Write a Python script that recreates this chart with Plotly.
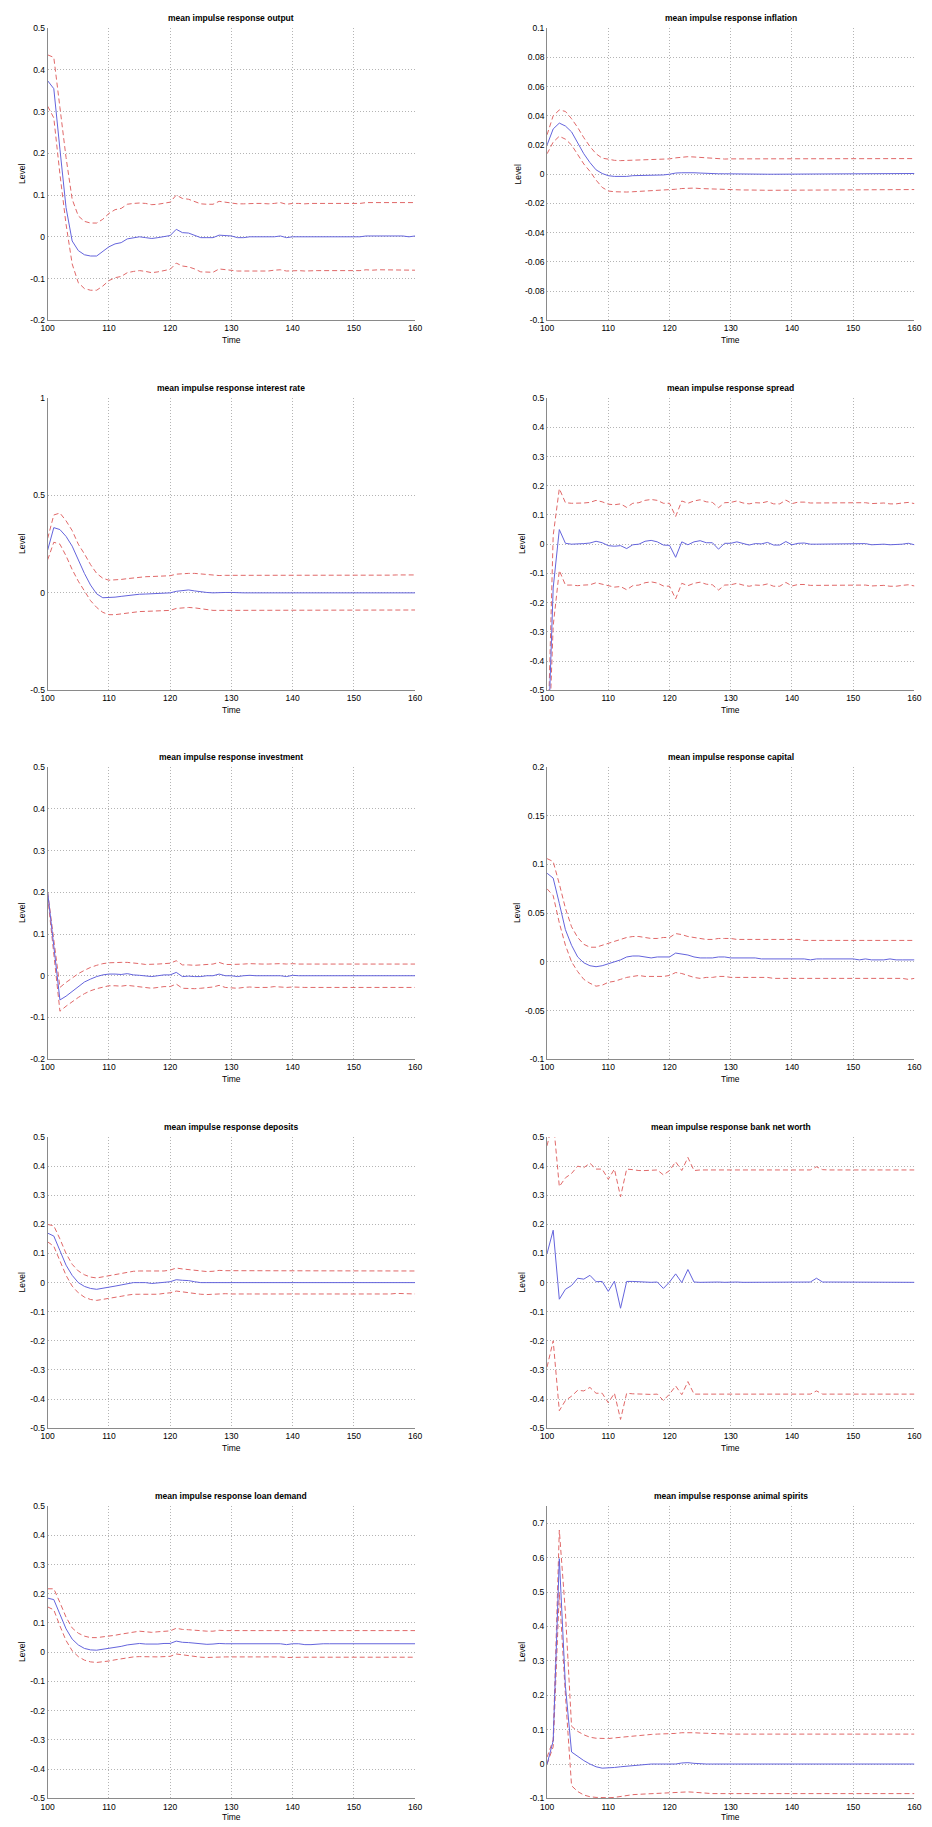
import plotly.graph_objects as go

# ---------------- data ----------------
time = list(range(100, 161))

titles = ["mean impulse response output", "mean impulse response inflation",
          "mean impulse response interest rate", "mean impulse response spread",
          "mean impulse response investment", "mean impulse response capital",
          "mean impulse response deposits", "mean impulse response bank net worth",
          "mean impulse response loan demand", "mean impulse response animal spirits"]

out_mean = [0.374, 0.355, 0.21, 0.07, -0.01, -0.033, -0.043, -0.046, -0.046, -0.035,
            -0.024, -0.017, -0.014, -0.005, -0.002, 0.0, -0.002, -0.004, -0.002, 0.0,
            0.003, 0.018, 0.01, 0.009, 0.004, -0.002, -0.002, -0.002, 0.004, 0.003,
            0.002, -0.002, -0.002, 0.0, 0.0, 0.0, -0.001, 0.0, 0.002, -0.002,
            0.0, 0.0, -0.001, 0.0, 0.0, 0.0, 0.0, 0.0, 0.0, 0.0,
            0.0, 0.0, 0.002, 0.002, 0.002, 0.002, 0.002, 0.002, 0.002, 0.0,
            0.002]
out_hi = [0.436, 0.43, 0.31, 0.19, 0.09, 0.05, 0.037, 0.033, 0.033, 0.042,
          0.056, 0.065, 0.068, 0.078, 0.08, 0.081, 0.08, 0.077, 0.078, 0.08,
          0.083, 0.1, 0.092, 0.09, 0.085, 0.079, 0.078, 0.078, 0.085, 0.083,
          0.081, 0.079, 0.079, 0.08, 0.08, 0.08, 0.079, 0.08, 0.082, 0.078,
          0.08, 0.08, 0.079, 0.08, 0.08, 0.08, 0.08, 0.08, 0.08, 0.08,
          0.08, 0.08, 0.082, 0.082, 0.082, 0.082, 0.082, 0.082, 0.082, 0.081,
          0.082]
out_lo = [0.313, 0.285, 0.15, 0.03, -0.065, -0.11, -0.124, -0.128, -0.128, -0.118,
          -0.105, -0.098, -0.095, -0.086, -0.083, -0.081, -0.083, -0.086, -0.084, -0.081,
          -0.078, -0.063, -0.07, -0.072, -0.077, -0.084, -0.084, -0.085, -0.077, -0.079,
          -0.08, -0.082, -0.082, -0.082, -0.082, -0.083, -0.082, -0.08, -0.079, -0.082,
          -0.081, -0.081, -0.082, -0.081, -0.081, -0.081, -0.081, -0.081, -0.081, -0.081,
          -0.081, -0.081, -0.079, -0.08, -0.079, -0.079, -0.079, -0.079, -0.079, -0.08,
          -0.08]

inf_mean = [0.02, 0.031, 0.035, 0.033, 0.029, 0.021, 0.014, 0.008, 0.003, 0.0005,
            -0.001, -0.0015, -0.0017, -0.0015, -0.001, -0.001, -0.0008, -0.0007, -0.0006, -0.0005,
            0.0, 0.0008, 0.001, 0.0012, 0.001, 0.0008, 0.0005, 0.0002, 0.0003, 0.0003,
            0.0002, 0.0, 0.0, 0.0, 0.0, 0.0, 0.0, 0.0, 0.0, 0.0,
            0.0, 0.0, 0.0, 0.0, 0.0, 0.0, 0.0, 0.0, 0.0, 0.0,
            0.0, 0.0, 0.0, 0.0, 0.0, 0.0, 0.0005, 0.0005, 0.0005, 0.0005,
            0.0005]
inf_hi = [0.027, 0.04, 0.044, 0.043, 0.038, 0.032, 0.025, 0.019, 0.014, 0.011,
          0.0103, 0.0095, 0.0093, 0.0094, 0.0096, 0.0098, 0.0099, 0.01, 0.01, 0.01,
          0.0105, 0.0112, 0.0117, 0.012, 0.0118, 0.0115, 0.011, 0.0105, 0.0103, 0.0104,
          0.0105, 0.0105, 0.0105, 0.0105, 0.0105, 0.0105, 0.0105, 0.0105, 0.0105, 0.0105,
          0.0105, 0.0105, 0.0105, 0.0105, 0.0103, 0.0103, 0.0105, 0.0105, 0.0105, 0.0105,
          0.0105, 0.0105, 0.0105, 0.0105, 0.0105, 0.0105, 0.0106, 0.0107, 0.0107, 0.0107,
          0.0107]
inf_lo = [0.014, 0.022, 0.026, 0.024, 0.02, 0.013, 0.007, 0.002, -0.004, -0.009,
          -0.0115, -0.012, -0.0123, -0.0122, -0.012, -0.0118, -0.0116, -0.0115, -0.0113, -0.0112,
          -0.011, -0.0103, -0.0098, -0.0095, -0.0095, -0.0098, -0.01, -0.0102, -0.0104, -0.0105,
          -0.0107, -0.0108, -0.0108, -0.0108, -0.011, -0.011, -0.011, -0.011, -0.011, -0.011,
          -0.011, -0.011, -0.011, -0.011, -0.011, -0.011, -0.011, -0.011, -0.011, -0.011,
          -0.011, -0.011, -0.011, -0.011, -0.011, -0.0108, -0.0105, -0.0105, -0.0105, -0.0105,
          -0.0105]

ir_mean = [0.22, 0.335, 0.325, 0.29, 0.24, 0.17, 0.1, 0.04, -0.005, -0.025,
           -0.025, -0.022, -0.018, -0.014, -0.01, -0.007, -0.006, -0.005, -0.004, -0.002,
           0.0, 0.008, 0.01, 0.015, 0.01, 0.005, 0.002, 0.0, 0.002, 0.002,
           0.002, 0.0, 0.0, 0.0, 0.0, 0.0, 0.0, 0.0, 0.0, 0.0,
           0.0, 0.0, 0.0, 0.0, 0.0, 0.0, 0.0, 0.0, 0.0, 0.0,
           0.0, 0.0, 0.0, 0.0, 0.0, 0.0, 0.003, 0.003, 0.003, 0.0,
           0.0]
ir_hi = [0.28, 0.4, 0.41, 0.37, 0.32, 0.25, 0.2, 0.145, 0.1, 0.075,
         0.065, 0.066, 0.069, 0.073, 0.077, 0.081, 0.083, 0.084, 0.085, 0.086,
         0.088, 0.096, 0.099, 0.1, 0.1, 0.097, 0.092, 0.089, 0.089, 0.09,
         0.09, 0.09, 0.09, 0.09, 0.089, 0.089, 0.089, 0.089, 0.088, 0.088,
         0.088, 0.088, 0.088, 0.088, 0.088, 0.088, 0.088, 0.089, 0.089, 0.089,
         0.089, 0.089, 0.089, 0.09, 0.09, 0.09, 0.091, 0.092, 0.092, 0.092,
         0.092]
ir_lo = [0.17, 0.26, 0.25, 0.19, 0.12, 0.06, 0.01, -0.04, -0.075, -0.1,
         -0.112, -0.112, -0.108, -0.103, -0.099, -0.096, -0.095, -0.094, -0.093, -0.092,
         -0.09, -0.08, -0.077, -0.075, -0.077, -0.082, -0.087, -0.09, -0.09, -0.09,
         -0.09, -0.09, -0.09, -0.09, -0.09, -0.09, -0.09, -0.09, -0.091, -0.091,
         -0.091, -0.091, -0.091, -0.091, -0.091, -0.091, -0.091, -0.091, -0.09, -0.09,
         -0.09, -0.09, -0.09, -0.09, -0.089, -0.089, -0.089, -0.088, -0.088, -0.088,
         -0.088]

sp_mean = [-0.78, -0.15, 0.05, 0.003, 0.0, 0.0, 0.002, 0.004, 0.01, 0.005,
           -0.005, -0.007, -0.005, -0.015, -0.002, 0.0, 0.01, 0.013, 0.008, -0.003,
           -0.004, -0.045, 0.008, -0.002, 0.008, 0.012, 0.005, 0.005, -0.017, 0.003,
           0.003, 0.008, 0.002, -0.003, 0.002, 0.001, 0.006, -0.003, -0.003, 0.009,
           -0.002, 0.003, 0.004, 0.0, 0.0, 0.0, 0.001, 0.0, 0.0, 0.0,
           0.0, 0.0, 0.002, -0.002, 0.0, 0.0, -0.002, -0.002, 0.0, 0.003,
           -0.002]
sp_hi = [-0.76, 0.03, 0.19, 0.142, 0.14, 0.14, 0.141, 0.143, 0.15, 0.145,
         0.137, 0.135, 0.138, 0.126, 0.14, 0.142, 0.15, 0.153, 0.15, 0.14,
         0.14, 0.095, 0.148, 0.14, 0.148, 0.152, 0.145, 0.143, 0.125, 0.142,
         0.143, 0.148, 0.141, 0.138, 0.142, 0.141, 0.146, 0.138, 0.138, 0.151,
         0.139, 0.144, 0.144, 0.141, 0.141, 0.141, 0.142, 0.141, 0.141, 0.141,
         0.141, 0.141, 0.142, 0.139, 0.141, 0.141, 0.138, 0.138, 0.141, 0.143,
         0.139]
sp_lo = [-0.85, -0.28, -0.09, -0.14, -0.14, -0.142, -0.14, -0.139, -0.132, -0.137,
         -0.144, -0.147, -0.145, -0.156, -0.142, -0.14, -0.132, -0.129, -0.133, -0.143,
         -0.144, -0.187, -0.134, -0.142, -0.134, -0.13, -0.137, -0.139, -0.157, -0.14,
         -0.139, -0.134, -0.14, -0.144, -0.14, -0.141, -0.136, -0.144, -0.144, -0.131,
         -0.143, -0.138, -0.138, -0.141, -0.141, -0.141, -0.14, -0.141, -0.141, -0.141,
         -0.141, -0.141, -0.14, -0.143, -0.141, -0.141, -0.144, -0.144, -0.141, -0.139,
         -0.143]

inv_mean = [0.2, 0.07, -0.058, -0.049, -0.037, -0.025, -0.015, -0.008, -0.002, 0.002,
            0.004, 0.004, 0.003, 0.005, 0.002, 0.001, 0.0, -0.002, 0.0, 0.002,
            0.002, 0.008, -0.002, -0.001, -0.002, -0.002, 0.0, 0.0, 0.004, 0.0,
            0.0, -0.002, 0.0, 0.001, 0.0, 0.0, 0.0, 0.001, 0.0, -0.002,
            0.001, 0.0, 0.0, 0.0, 0.0, 0.0, 0.0, 0.0, 0.0, 0.0,
            0.0, 0.0, 0.001, 0.0, 0.0, 0.0, 0.0, 0.0, 0.0, 0.0,
            0.0]
inv_hi = [0.2, 0.085, -0.028, -0.016, -0.005, 0.005, 0.013, 0.02, 0.025, 0.029,
          0.031, 0.032, 0.032, 0.032, 0.031, 0.029, 0.027, 0.027, 0.028, 0.029,
          0.03, 0.036, 0.026, 0.026, 0.025, 0.026, 0.027, 0.028, 0.032, 0.027,
          0.027, 0.027, 0.028, 0.029, 0.028, 0.028, 0.028, 0.029, 0.029, 0.028,
          0.029, 0.028, 0.028, 0.029, 0.029, 0.028, 0.028, 0.028, 0.028, 0.028,
          0.028, 0.028, 0.029, 0.028, 0.028, 0.028, 0.028, 0.028, 0.028, 0.028,
          0.028]
inv_lo = [0.19, 0.055, -0.085, -0.073, -0.062, -0.052, -0.043, -0.036, -0.031, -0.027,
          -0.024, -0.024, -0.025, -0.023, -0.025, -0.027, -0.029, -0.03, -0.028, -0.026,
          -0.026, -0.02, -0.03, -0.031, -0.031, -0.03, -0.028, -0.027, -0.023, -0.028,
          -0.029, -0.03, -0.028, -0.027, -0.028, -0.028, -0.028, -0.026, -0.027, -0.028,
          -0.027, -0.028, -0.028, -0.028, -0.028, -0.028, -0.028, -0.028, -0.028, -0.028,
          -0.028, -0.028, -0.028, -0.028, -0.028, -0.028, -0.028, -0.028, -0.028, -0.028,
          -0.028]

cap_mean = [0.091, 0.086, 0.06, 0.033, 0.017, 0.005, -0.001, -0.004, -0.005, -0.004,
            -0.002, 0.0, 0.002, 0.005, 0.006, 0.006, 0.005, 0.004, 0.005, 0.005,
            0.005, 0.009, 0.008, 0.007, 0.005, 0.004, 0.004, 0.004, 0.005, 0.005,
            0.004, 0.004, 0.004, 0.004, 0.004, 0.003, 0.003, 0.003, 0.003, 0.003,
            0.003, 0.003, 0.003, 0.002, 0.003, 0.003, 0.003, 0.003, 0.003, 0.003,
            0.003, 0.002, 0.003, 0.002, 0.002, 0.002, 0.003, 0.002, 0.002, 0.002,
            0.002]
cap_hi = [0.106, 0.103, 0.08, 0.055, 0.036, 0.025, 0.018, 0.015, 0.015, 0.017,
          0.019, 0.021, 0.023, 0.025, 0.026, 0.026, 0.025, 0.024, 0.024, 0.025,
          0.025, 0.029, 0.028, 0.026, 0.025, 0.024, 0.023, 0.023, 0.024, 0.024,
          0.024, 0.023, 0.023, 0.023, 0.023, 0.023, 0.023, 0.023, 0.023, 0.023,
          0.023, 0.023, 0.022, 0.022, 0.022, 0.022, 0.022, 0.022, 0.022, 0.022,
          0.022, 0.022, 0.022, 0.022, 0.022, 0.022, 0.022, 0.022, 0.022, 0.022,
          0.022]
cap_lo = [0.075, 0.068, 0.04, 0.017, 0.0, -0.01, -0.018, -0.022, -0.025, -0.024,
          -0.021, -0.02, -0.018, -0.016, -0.015, -0.014, -0.015, -0.015, -0.015, -0.015,
          -0.014, -0.011, -0.012, -0.014, -0.016, -0.017, -0.016, -0.016, -0.015, -0.015,
          -0.016, -0.016, -0.016, -0.016, -0.016, -0.016, -0.016, -0.017, -0.017, -0.017,
          -0.017, -0.017, -0.017, -0.017, -0.017, -0.017, -0.017, -0.017, -0.017, -0.017,
          -0.017, -0.017, -0.017, -0.017, -0.017, -0.017, -0.017, -0.017, -0.017, -0.018,
          -0.017]

dep_mean = [0.17, 0.16, 0.11, 0.06, 0.025, 0.0, -0.013, -0.02, -0.023, -0.02,
            -0.016, -0.012, -0.008, -0.004, 0.0, 0.0, 0.0, -0.003, 0.0, 0.001,
            0.003, 0.01, 0.008, 0.007, 0.003, 0.0, 0.0, 0.0, 0.001, 0.001,
            0.001, 0.0, 0.0, 0.0, 0.0, 0.0, 0.0, 0.0, 0.0, 0.0,
            0.0, 0.0, 0.0, 0.0, 0.0, 0.0, 0.0, 0.0, 0.0, 0.0,
            0.0, 0.0, 0.0, 0.0, 0.0, 0.001, 0.0, 0.001, 0.001, 0.0,
            0.0]
dep_hi = [0.2, 0.195, 0.15, 0.1, 0.063, 0.04, 0.027, 0.019, 0.016, 0.02,
          0.025, 0.029, 0.032, 0.036, 0.039, 0.04, 0.04, 0.038, 0.039, 0.04,
          0.043, 0.05, 0.047, 0.045, 0.042, 0.039, 0.038, 0.039, 0.042, 0.041,
          0.041, 0.041, 0.04, 0.04, 0.04, 0.04, 0.039, 0.04, 0.04, 0.04,
          0.04, 0.04, 0.04, 0.04, 0.04, 0.04, 0.04, 0.04, 0.04, 0.04,
          0.04, 0.04, 0.04, 0.04, 0.04, 0.04, 0.04, 0.04, 0.04, 0.04,
          0.04]
dep_lo = [0.14, 0.125, 0.075, 0.025, -0.012, -0.035, -0.05, -0.058, -0.061, -0.058,
          -0.055, -0.05, -0.047, -0.043, -0.04, -0.04, -0.04, -0.042, -0.04, -0.037,
          -0.035, -0.029, -0.032, -0.033, -0.036, -0.04, -0.041, -0.04, -0.037, -0.038,
          -0.039, -0.04, -0.039, -0.039, -0.039, -0.039, -0.038, -0.039, -0.04, -0.039,
          -0.039, -0.039, -0.039, -0.039, -0.039, -0.039, -0.039, -0.039, -0.039, -0.039,
          -0.039, -0.039, -0.039, -0.039, -0.039, -0.039, -0.039, -0.037, -0.038, -0.038,
          -0.039]

bnw_mean = [0.1, 0.18, -0.057, -0.023, -0.01, 0.015, 0.012, 0.025, 0.003, 0.004,
            -0.03, 0.005, -0.088, 0.004, 0.004, 0.002, 0.002, 0.001, 0.002, -0.02,
            0.002, 0.03, 0.0, 0.045, 0.002, 0.001, 0.002, 0.002, 0.002, 0.001,
            0.002, 0.002, 0.001, 0.001, 0.001, 0.002, 0.001, 0.001, 0.002, 0.001,
            0.001, 0.002, 0.002, 0.002, 0.015, 0.002, 0.002, 0.002, 0.002, 0.002,
            0.002, 0.002, 0.002, 0.001, 0.002, 0.002, 0.002, 0.002, 0.003, 0.002,
            0.001]
bnw_hi = [0.47, 0.56, 0.33, 0.36, 0.375, 0.4, 0.395, 0.41, 0.39, 0.39,
          0.355, 0.39, 0.295, 0.39, 0.388, 0.385, 0.385, 0.387, 0.387, 0.37,
          0.385, 0.415, 0.385, 0.43, 0.385, 0.387, 0.387, 0.387, 0.387, 0.386,
          0.387, 0.387, 0.387, 0.387, 0.387, 0.387, 0.387, 0.387, 0.386, 0.387,
          0.387, 0.387, 0.387, 0.387, 0.398, 0.388, 0.387, 0.387, 0.387, 0.387,
          0.387, 0.387, 0.387, 0.386, 0.387, 0.387, 0.387, 0.387, 0.388, 0.387,
          0.387]
bnw_lo = [-0.29, -0.2, -0.44, -0.405, -0.39, -0.37, -0.372, -0.36, -0.38, -0.38,
          -0.413, -0.38, -0.47, -0.38, -0.382, -0.383, -0.385, -0.384, -0.383, -0.405,
          -0.383, -0.355, -0.385, -0.34, -0.383, -0.383, -0.383, -0.383, -0.383, -0.384,
          -0.383, -0.383, -0.383, -0.383, -0.383, -0.383, -0.383, -0.383, -0.383, -0.383,
          -0.383, -0.383, -0.383, -0.383, -0.372, -0.383, -0.383, -0.383, -0.383, -0.383,
          -0.383, -0.383, -0.383, -0.385, -0.383, -0.383, -0.383, -0.383, -0.383, -0.383,
          -0.383]

ld_mean = [0.185, 0.18, 0.13, 0.08, 0.045, 0.025, 0.013, 0.008, 0.007, 0.01,
           0.013, 0.016, 0.02, 0.025, 0.027, 0.03, 0.028, 0.027, 0.028, 0.03,
           0.03, 0.038, 0.034, 0.033, 0.031, 0.028, 0.027, 0.028, 0.03, 0.029,
           0.029, 0.029, 0.029, 0.029, 0.029, 0.029, 0.027, 0.029, 0.029, 0.026,
           0.029, 0.029, 0.026, 0.026, 0.028, 0.029, 0.029, 0.029, 0.029, 0.029,
           0.029, 0.029, 0.029, 0.029, 0.029, 0.029, 0.029, 0.029, 0.029, 0.029,
           0.029]
ld_hi = [0.217, 0.217, 0.17, 0.12, 0.083, 0.065, 0.055, 0.05, 0.05, 0.052,
         0.055, 0.058, 0.062, 0.066, 0.07, 0.072, 0.07, 0.068, 0.07, 0.072,
         0.073, 0.082, 0.078, 0.077, 0.075, 0.073, 0.072, 0.072, 0.075, 0.074,
         0.074, 0.074, 0.074, 0.074, 0.074, 0.074, 0.074, 0.074, 0.074, 0.074,
         0.073, 0.073, 0.073, 0.072, 0.073, 0.074, 0.074, 0.074, 0.074, 0.074,
         0.074, 0.074, 0.074, 0.074, 0.074, 0.074, 0.074, 0.074, 0.074, 0.074,
         0.074]
ld_lo = [0.155, 0.145, 0.09, 0.04, 0.005, -0.015, -0.027, -0.033, -0.035, -0.033,
         -0.03, -0.026, -0.022, -0.018, -0.016, -0.015, -0.016, -0.017, -0.016, -0.015,
         -0.014, -0.006, -0.009, -0.01, -0.013, -0.017, -0.018, -0.017, -0.015, -0.016,
         -0.016, -0.016, -0.017, -0.016, -0.016, -0.016, -0.016, -0.015, -0.016, -0.018,
         -0.017, -0.017, -0.017, -0.017, -0.017, -0.017, -0.017, -0.017, -0.017, -0.017,
         -0.017, -0.017, -0.017, -0.017, -0.017, -0.017, -0.017, -0.017, -0.017, -0.017,
         -0.017]

as_mean = [0.0, 0.067, 0.597, 0.226, 0.035, 0.022, 0.01, 0.0, -0.008, -0.012,
           -0.012, -0.01, -0.008, -0.006, -0.004, -0.002, -0.001, 0.0, 0.0, 0.0,
           0.0, 0.0, 0.003, 0.004, 0.002, 0.0, 0.0, 0.0, 0.0, -0.001,
           -0.001, -0.001, -0.001, 0.0, 0.0, 0.0, -0.001, 0.0, 0.0, 0.0,
           0.0, 0.0, -0.001, 0.0, 0.0, 0.0, 0.0, 0.0, 0.0, 0.0,
           0.0, 0.0, 0.0, 0.0, 0.0, 0.0, 0.0, 0.0, 0.0, 0.0,
           0.0]
as_hi = [0.02, 0.07, 0.68, 0.44, 0.11, 0.095, 0.085, 0.078, 0.075, 0.074,
         0.074, 0.076, 0.078, 0.08, 0.082, 0.084, 0.085, 0.086, 0.087, 0.087,
         0.087, 0.089, 0.091, 0.092, 0.091, 0.09, 0.089, 0.088, 0.088, 0.087,
         0.087, 0.087, 0.087, 0.087, 0.087, 0.087, 0.087, 0.087, 0.087, 0.087,
         0.087, 0.087, 0.087, 0.087, 0.087, 0.087, 0.087, 0.087, 0.087, 0.087,
         0.087, 0.087, 0.087, 0.087, 0.087, 0.087, 0.087, 0.087, 0.087, 0.087,
         0.087]
as_lo = [0.0, 0.05, 0.5, 0.2, -0.063, -0.08, -0.09, -0.095, -0.097, -0.098,
         -0.098, -0.097, -0.094, -0.091, -0.089, -0.088, -0.087, -0.086, -0.086, -0.086,
         -0.085, -0.083, -0.081, -0.081, -0.082, -0.084, -0.085, -0.086, -0.086, -0.086,
         -0.086, -0.086, -0.086, -0.086, -0.086, -0.086, -0.086, -0.086, -0.086, -0.086,
         -0.086, -0.086, -0.086, -0.086, -0.086, -0.086, -0.086, -0.086, -0.086, -0.086,
         -0.086, -0.086, -0.086, -0.086, -0.086, -0.086, -0.086, -0.086, -0.086, -0.086,
         -0.086]

panel_series = [(out_mean, out_hi, out_lo), (inf_mean, inf_hi, inf_lo),
                (ir_mean, ir_hi, ir_lo), (sp_mean, sp_hi, sp_lo),
                (inv_mean, inv_hi, inv_lo), (cap_mean, cap_hi, cap_lo),
                (dep_mean, dep_hi, dep_lo), (bnw_mean, bnw_hi, bnw_lo),
                (ld_mean, ld_hi, ld_lo), (as_mean, as_hi, as_lo)]

# y ranges and tick labels
y_ranges = [[-0.2, 0.5], [-0.1, 0.1], [-0.5, 1.0], [-0.5, 0.5], [-0.2, 0.5],
            [-0.1, 0.2], [-0.5, 0.5], [-0.5, 0.5], [-0.5, 0.5], [-0.1, 0.75]]
y_tickvals = [
    [-0.2, -0.1, 0, 0.1, 0.2, 0.3, 0.4, 0.5],
    [-0.1, -0.08, -0.06, -0.04, -0.02, 0, 0.02, 0.04, 0.06, 0.08, 0.1],
    [-0.5, 0, 0.5, 1],
    [-0.5, -0.4, -0.3, -0.2, -0.1, 0, 0.1, 0.2, 0.3, 0.4, 0.5],
    [-0.2, -0.1, 0, 0.1, 0.2, 0.3, 0.4, 0.5],
    [-0.1, -0.05, 0, 0.05, 0.1, 0.15, 0.2],
    [-0.5, -0.4, -0.3, -0.2, -0.1, 0, 0.1, 0.2, 0.3, 0.4, 0.5],
    [-0.5, -0.4, -0.3, -0.2, -0.1, 0, 0.1, 0.2, 0.3, 0.4, 0.5],
    [-0.5, -0.4, -0.3, -0.2, -0.1, 0, 0.1, 0.2, 0.3, 0.4, 0.5],
    [-0.1, 0, 0.1, 0.2, 0.3, 0.4, 0.5, 0.6, 0.7],
]
y_ticktext = [
    ["-0.2", "-0.1", "0", "0.1", "0.2", "0.3", "0.4", "0.5"],
    ["-0.1", "-0.08", "-0.06", "-0.04", "-0.02", "0", "0.02", "0.04", "0.06", "0.08", "0.1"],
    ["-0.5", "0", "0.5", "1"],
    ["-0.5", "-0.4", "-0.3", "-0.2", "-0.1", "0", "0.1", "0.2", "0.3", "0.4", "0.5"],
    ["-0.2", "-0.1", "0", "0.1", "0.2", "0.3", "0.4", "0.5"],
    ["-0.1", "-0.05", "0", "0.05", "0.1", "0.15", "0.2"],
    ["-0.5", "-0.4", "-0.3", "-0.2", "-0.1", "0", "0.1", "0.2", "0.3", "0.4", "0.5"],
    ["-0.5", "-0.4", "-0.3", "-0.2", "-0.1", "0", "0.1", "0.2", "0.3", "0.4", "0.5"],
    ["-0.5", "-0.4", "-0.3", "-0.2", "-0.1", "0", "0.1", "0.2", "0.3", "0.4", "0.5"],
    ["-0.1", "0", "0.1", "0.2", "0.3", "0.4", "0.5", "0.6", "0.7"],
]
x_tickvals = [100, 110, 120, 130, 140, 150, 160]
x_ticktext = ["100", "110", "120", "130", "140", "150", "160"]

# ---------------- layout geometry (pixels) ----------------
W, H = 932, 1827
col_lr = [(41.3, 414.3), (548.3, 921.3)]
row_tb = [(23.3, 317.0), (395.3, 689.0), (766.3, 1060.0), (1138.3, 1431.0), (1509.3, 1803.3)]
level_x = [15, 519, 15, 522.7, 15, 517.7, 15, 522.7, 15, 522.7]

FONT = "Liberation Sans, Arial, Helvetica, sans-serif"
BLUE = "#6464dc"
RED = "#e06868"
GRID = "#b4b4b4"
AXLINE = "#8a8a8a"

fig = go.Figure()
annotations = []
layout = dict(
    width=W, height=H,
    margin=dict(l=0, r=0, t=0, b=0),
    paper_bgcolor="white", plot_bgcolor="white",
    showlegend=False,
    font=dict(family=FONT, size=8.5, color="black"),
)

for i in range(10):
    r, c = divmod(i, 2)
    L, R = col_lr[c]
    T, B = row_tb[r]
    k = "" if i == 0 else str(i + 1)
    xa, ya = "x" + k, "y" + k
    mean, hi, lo = panel_series[i]
    for s, col, dash in [(hi, RED, "5px,3px"), (lo, RED, "5px,3px"), (mean, BLUE, "solid")]:
        fig.add_trace(go.Scatter(x=time, y=s, mode="lines", xaxis=xa, yaxis=ya,
                                 line=dict(color=col, width=1, dash=dash),
                                 hoverinfo="x+y"))
    layout["xaxis" + k] = dict(
        domain=[L / W, R / W], anchor=ya, range=[100, 160],
        tickvals=x_tickvals, ticktext=x_ticktext,
        showgrid=True, gridcolor=GRID, griddash="1px,2px", gridwidth=1,
        showline=True, linecolor=AXLINE, linewidth=1, zeroline=False,
        ticks="", tickfont=dict(family=FONT, size=8.5, color="black"),
    )
    layout["yaxis" + k] = dict(
        domain=[1 - B / H, 1 - T / H], anchor=xa, range=y_ranges[i],
        tickvals=y_tickvals[i], ticktext=y_ticktext[i],
        showgrid=True, gridcolor=GRID, griddash="1px,2px", gridwidth=1,
        showline=True, linecolor=AXLINE, linewidth=1, zeroline=False,
        ticks="", tickfont=dict(family=FONT, size=8.5, color="black"),
    )
    cx = (L + R) / 2 / W
    annotations.append(dict(text="<b>" + titles[i] + "</b>", xref="paper", yref="paper",
                            x=cx, y=1 - T / H, xanchor="center", yanchor="bottom",
                            yshift=3, showarrow=False,
                            font=dict(family=FONT, size=8.5, color="black")))
    time_y = min(B + 20.3, 1821.5)
    annotations.append(dict(text="Time", xref="paper", yref="paper",
                            x=cx, y=1 - time_y / H, xanchor="center", yanchor="middle",
                            showarrow=False, font=dict(family=FONT, size=8.5, color="black")))
    annotations.append(dict(text="Level", xref="paper", yref="paper",
                            x=level_x[i] / W, y=1 - (T + B) / 2 / H, xanchor="center",
                            yanchor="middle", textangle=-90, showarrow=False,
                            font=dict(family=FONT, size=8.5, color="black")))

layout["annotations"] = annotations
fig.update_layout(**layout)
fig.write_html("out.html",
               config={"displayModeBar": False},
               post_script="document.body.style.margin='0';document.body.style.overflow='hidden';")
